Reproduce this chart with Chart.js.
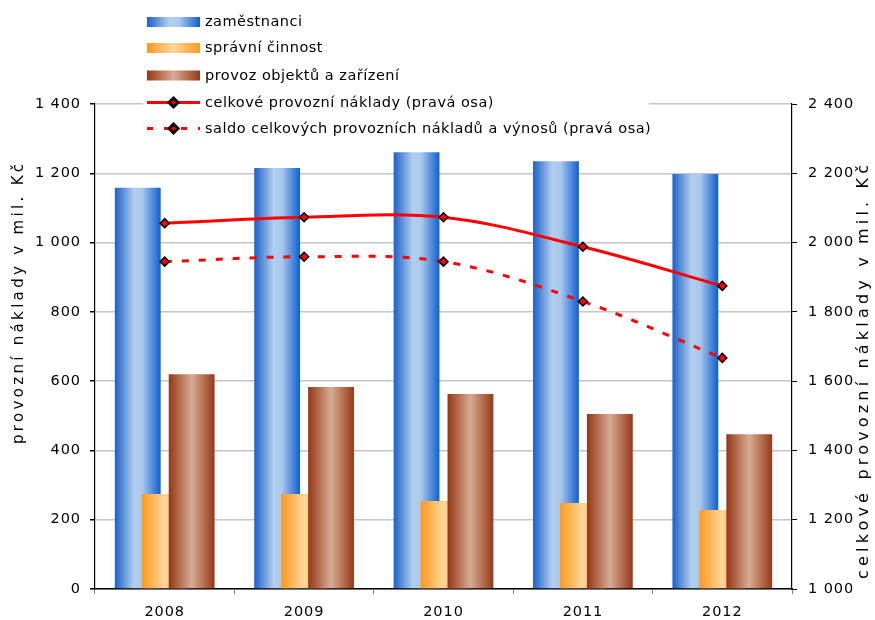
<!DOCTYPE html>
<html><head><meta charset="utf-8">
<script src="https://cdn.jsdelivr.net/npm/chart.js@4/dist/chart.umd.min.js"></script>
<style>html,body{margin:0;padding:0;background:#fff}canvas{display:block}</style>
</head><body>
<canvas id="c" width="875" height="620"></canvas>
<script>
// ---- data ----
const years = ['2008', '2009', '2010', '2011', '2012'];
const zamestnanci = [1158, 1215, 1261, 1235, 1198];
const spravniCinnost = [274, 274, 254, 248, 228];
const provozObjektu = [620, 583, 563, 505, 447];
const celkoveNaklady = [2056, 2073, 2073, 1988, 1875];
const saldoNakladuVynosu = [1945, 1959, 1945, 1830, 1667];
const leftAxisTicks = [0, 200, 400, 600, 800, 1000, 1200, 1400];
const rightAxisTicks = [1000, 1200, 1400, 1600, 1800, 2000, 2200, 2400];
const seriesNames = ['zaměstnanci', 'správní činnost', 'provoz objektů a zařízení',
  'celkové provozní náklady (pravá osa)', 'saldo celkových provozních nákladů a výnosů (pravá osa)'];
const leftTitle = 'provozní náklady v mil. Kč';
const rightTitle = 'celkové provozní náklady v mil. Kč';

// ---- styles ----
const FONT = 'DejaVu Sans';
const CAT_PCT = 0.58, BAR_PCT = 1.7;
const blueStops = [[0, '#1c60c8'], [0.42, '#b1cfee'], [0.6, '#aac8ec'], [1, '#0e5fd0']];
const orangeStops = [[0, '#ff991c'], [0.5, '#ffd69c'], [1, '#ff9a1c']];
const brownStops = [[0, '#963714'], [0.5, '#d6ab95'], [1, '#963917']];
const fmt = v => String(v).replace(/\B(?=(\d{3})+(?!\d))/g, '\u00a0');

function barGradient(k, stops, fallback) {
  return function (ctx) {
    const chart = ctx.chart, xs = chart.scales.x;
    if (ctx.type !== 'data' || !xs || !chart.chartArea) return fallback;
    const center = xs.getPixelForValue(ctx.dataIndex);
    const cat = xs.width / years.length;
    const slot = cat * CAT_PCT / 3;
    const c = center + (k - 1) * slot, w = slot * BAR_PCT;
    const g = chart.ctx.createLinearGradient(c - w / 2, 0, c + w / 2, 0);
    stops.forEach(([o, col]) => g.addColorStop(o, col));
    return g;
  };
}

const spacingPlugin = {
  id: 'spacing',
  beforeDraw(chart) { chart.ctx.letterSpacing = '0.9px'; }
};

const barOrderPlugin = {
  id: 'barOrder',
  beforeDatasetsDraw(chart) {
    [0, 1, 2].forEach(i => {
      const meta = chart.getDatasetMeta(i);
      if (meta && !meta.hidden) meta.controller.draw();
    });
  },
  beforeDatasetDraw(chart, args) {
    if (args.index < 3) return false;
  }
};

function drawVerticalTitle(ctx, text, size, cx, cy, length) {
  ctx.save();
  ctx.font = size + 'px "' + FONT + '"';
  ctx.letterSpacing = '0px';
  const w = ctx.measureText(text).width;
  const ls = Math.max(0, (length - w) / (text.length - 1));
  ctx.letterSpacing = ls.toFixed(2) + 'px';
  ctx.textAlign = 'left';
  ctx.textBaseline = 'middle';
  ctx.fillStyle = '#000';
  ctx.translate(cx, cy);
  ctx.rotate(-Math.PI / 2);
  ctx.fillText(text, -length / 2, 0);
  ctx.restore();
}

const decorPlugin = {
  id: 'decor',
  afterDraw(chart) {
    const ctx = chart.ctx;
    ctx.save();
    ctx.fillStyle = '#fff';
    ctx.fillRect(143, 4, 506, 138);
    const rowsY = [22, 48, 75.5, 102.5, 128.5];
    const sx = 147, sw = 53, tx = 205;
    ctx.font = '14.5px "' + FONT + '"';
    ctx.letterSpacing = '0.5px';
    ctx.textBaseline = 'middle';
    ctx.textAlign = 'left';
    const grads = [blueStops, orangeStops, brownStops];
    for (let i = 0; i < 3; i++) {
      const g = ctx.createLinearGradient(sx, 0, sx + sw, 0);
      grads[i].forEach(([o, col]) => g.addColorStop(o, col));
      ctx.fillStyle = g;
      ctx.fillRect(sx, rowsY[i] - 5, sw, 10);
    }
    for (let i = 3; i < 5; i++) {
      const y = rowsY[i];
      ctx.strokeStyle = '#ff0000';
      ctx.lineWidth = 3;
      ctx.setLineDash(i === 4 ? [6, 11] : []);
      ctx.lineDashOffset = 0;
      ctx.beginPath(); ctx.moveTo(sx, y); ctx.lineTo(sx + sw, y); ctx.stroke();
      ctx.setLineDash([]);
      ctx.fillStyle = '#ff0000';
      ctx.strokeStyle = '#000';
      Chart.helpers.drawPoint(ctx, {pointStyle: 'rectRot', radius: 4.5, borderWidth: 1.5, rotation: 0}, sx + sw / 2, y);
    }
    ctx.fillStyle = '#000';
    seriesNames.forEach((n, i) => ctx.fillText(n, tx, rowsY[i] + 0.5));
    ctx.restore();
    drawVerticalTitle(ctx, leftTitle, 15, 19.5, 304, 280);
    drawVerticalTitle(ctx, rightTitle, 16, 864, 372, 414);
  }
};

const marker = {pointStyle: 'rectRot', pointRadius: 4.5, pointBorderWidth: 1.5,
  pointBackgroundColor: '#ff0000', pointBorderColor: '#000', pointHoverRadius: 4.5};

new Chart(document.getElementById('c'), {
  data: {
    labels: years,
    datasets: [
      {type: 'bar', label: seriesNames[0], data: zamestnanci, yAxisID: 'y',
        backgroundColor: barGradient(0, blueStops, '#6f9fe0'), borderWidth: 0,
        categoryPercentage: CAT_PCT, barPercentage: BAR_PCT, order: 1},
      {type: 'bar', label: seriesNames[1], data: spravniCinnost, yAxisID: 'y',
        backgroundColor: barGradient(1, orangeStops, '#ffb860'), borderWidth: 0,
        categoryPercentage: CAT_PCT, barPercentage: BAR_PCT, order: 1},
      {type: 'bar', label: seriesNames[2], data: provozObjektu, yAxisID: 'y',
        backgroundColor: barGradient(2, brownStops, '#b87050'), borderWidth: 0,
        categoryPercentage: CAT_PCT, barPercentage: BAR_PCT, order: 1},
      Object.assign({type: 'line', label: seriesNames[3], data: celkoveNaklady, yAxisID: 'y1',
        borderColor: '#ff0000', borderWidth: 3, tension: 0.35, fill: false, order: 0}, marker),
      Object.assign({type: 'line', label: seriesNames[4], data: saldoNakladuVynosu, yAxisID: 'y1',
        borderColor: '#ff0000', borderWidth: 3, borderDash: [7, 10], tension: 0.35, fill: false, order: 0}, marker)
    ]
  },
  options: {
    responsive: false,
    animation: false,
    events: [],
    layout: {padding: {top: 104, left: 0, right: 0, bottom: 0}},
    font: {family: FONT},
    plugins: {legend: {display: false}, tooltip: {enabled: false}, title: {display: false}},
    scales: {
      x: {
        type: 'category', offset: true,
        grid: {display: true, drawOnChartArea: false, drawTicks: true, tickLength: 5, tickColor: '#808080', offset: true},
        border: {display: true, color: '#000', width: 1.5},
        ticks: {color: '#000', font: {family: FONT, size: 14.5}, padding: 10, maxRotation: 0},
        afterFit(s) { s.height = 31; }
      },
      y: {
        position: 'left', min: 0, max: 1400,
        afterBuildTicks(s) { s.ticks = leftAxisTicks.map(v => ({value: v})); },
        grid: {color: '#c6c6c6', lineWidth: 1.5, tickColor: '#000', tickLength: 5, drawTicks: true},
        border: {display: true, color: '#000', width: 1.2},
        ticks: {color: '#000', font: {family: FONT, size: 14.5}, padding: 9, callback: v => fmt(v)},
        afterFit(s) { s.width = 95; }
      },
      y1: {
        position: 'right', min: 1000, max: 2400,
        afterBuildTicks(s) { s.ticks = rightAxisTicks.map(v => ({value: v})); },
        grid: {drawOnChartArea: false, tickColor: '#000', tickLength: 5, drawTicks: true},
        border: {display: true, color: '#000', width: 1.2},
        ticks: {color: '#000', font: {family: FONT, size: 14.5}, padding: 11, callback: v => fmt(v)},
        afterFit(s) { s.width = 83; }
      }
    }
  },
  plugins: [spacingPlugin, barOrderPlugin, decorPlugin]
});
</script>
</body></html>
